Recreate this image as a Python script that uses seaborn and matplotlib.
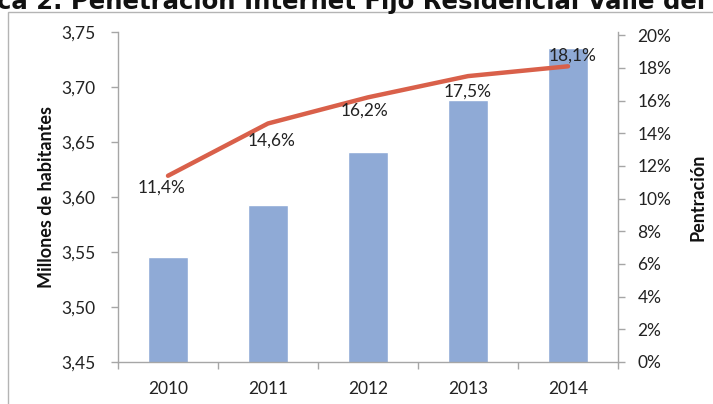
import matplotlib
matplotlib.use("Agg")
import matplotlib.pyplot as plt
import seaborn as sns
import pandas as pd
from matplotlib.patches import Rectangle
from matplotlib.ticker import MultipleLocator, FuncFormatter

# Data
years = ["2010", "2011", "2012", "2013", "2014"]
habitantes = [3.545, 3.593, 3.641, 3.688, 3.735]      # millones
penetracion = [11.4, 14.6, 16.2, 17.5, 18.1]           # %
pen_labels = ["11,4%", "14,6%", "16,2%", "17,5%", "18,1%"]

title_text = "ca 2. Penetración Internet Fijo Residencial Valle del Cauca"
ylabel_left = "Millones de habitantes"
ylabel_right = "Pentración"

sns.set_theme(style="white")
plt.rcParams["font.family"] = ["Lato", "DejaVu Sans"]

W, H = 713, 404
fig = plt.figure(figsize=(W / 100, H / 100), dpi=100)
fig.patch.set_facecolor("white")

# chart frame
fig.add_artist(Rectangle((8 / W, -0.05), 1.2, 1 - 12 / H + 0.05,
                         transform=fig.transFigure, fill=False,
                         edgecolor="#b4b4b4", lw=1.0))

# title (runs off the top of the canvas)
fig.text(-3 / W, 1 - 9 / H, title_text, ha="left", va="baseline",
         fontsize=17.6, fontweight="bold", family="DejaVu Sans", color="#111111")

ax = fig.add_axes([118 / W, 1 - 362 / H, 500 / W, 330 / H])
df = pd.DataFrame({"year": years, "hab": habitantes})
sns.barplot(data=df, x="year", y="hab", color="#8faad6", width=0.4,
            saturation=1, ax=ax, zorder=2)
ax.set_xlim(-0.5, 4.5)
ax.set_ylim(3.45, 3.75)
ax.yaxis.set_major_locator(MultipleLocator(0.05))
ax.yaxis.set_major_formatter(FuncFormatter(lambda v, p: f"{v:.2f}".replace(".", ",")))
ax.set_xlabel("")
ax.set_ylabel(ylabel_left, fontsize=13, fontweight="bold", labelpad=5, color="#111111")

ax2 = ax.twinx()
ax2.set_position(ax.get_position())
dfl = pd.DataFrame({"year": years, "pen": penetracion})
sns.lineplot(data=dfl, x="year", y="pen", color="#d9604a", lw=3.2, ax=ax2,
             sort=False, zorder=3)
ax2.set_ylim(0, 20.2)
ax2.yaxis.set_major_locator(MultipleLocator(2))
ax2.yaxis.set_major_formatter(FuncFormatter(lambda v, p: f"{int(round(v))}%"))
ax2.set_xlabel("")
ax2.set_ylabel(ylabel_right, fontsize=13, fontweight="bold", labelpad=13, color="#111111")
ax2.set_xlim(-0.5, 4.5)

offsets = [(-6, -12), (4, -17), (-4, -13), (0, -16), (5, 11)]
for i, (v, lab) in enumerate(zip(penetracion, pen_labels)):
    ax2.annotate(lab, (i, v), xytext=offsets[i], textcoords="offset pixels",
                 ha="center", va="center", fontsize=12.5, color="#222222", zorder=4)

spine_c = "#a6a6a6"
for a in (ax, ax2):
    for s in a.spines.values():
        s.set_visible(False)
ax.spines["left"].set_visible(True)
ax.spines["bottom"].set_visible(True)
ax2.spines["right"].set_visible(True)
for a, s in ((ax, "left"), (ax, "bottom"), (ax2, "right")):
    a.spines[s].set_color(spine_c)
    a.spines[s].set_linewidth(1.0)

ax.tick_params(axis="y", direction="out", length=5, width=1, color=spine_c,
               pad=11, labelsize=12.5, labelcolor="#222222", left=True)
ax2.tick_params(axis="y", direction="out", length=5, width=1, color=spine_c,
                pad=9, labelsize=12.5, labelcolor="#222222", right=True)
ax.set_xticks(range(len(years)))
ax.set_xticklabels(years)
ax.set_xticks([i - 0.5 for i in range(len(years) + 1)], minor=True)
ax.tick_params(axis="x", which="major", length=0, pad=14, labelsize=12.5,
               labelcolor="#222222")
ax.tick_params(axis="x", which="minor", direction="out", length=5, width=1,
               color=spine_c, bottom=True)
ax.grid(False)
ax2.grid(False)

fig.savefig("out.png", dpi=100)
